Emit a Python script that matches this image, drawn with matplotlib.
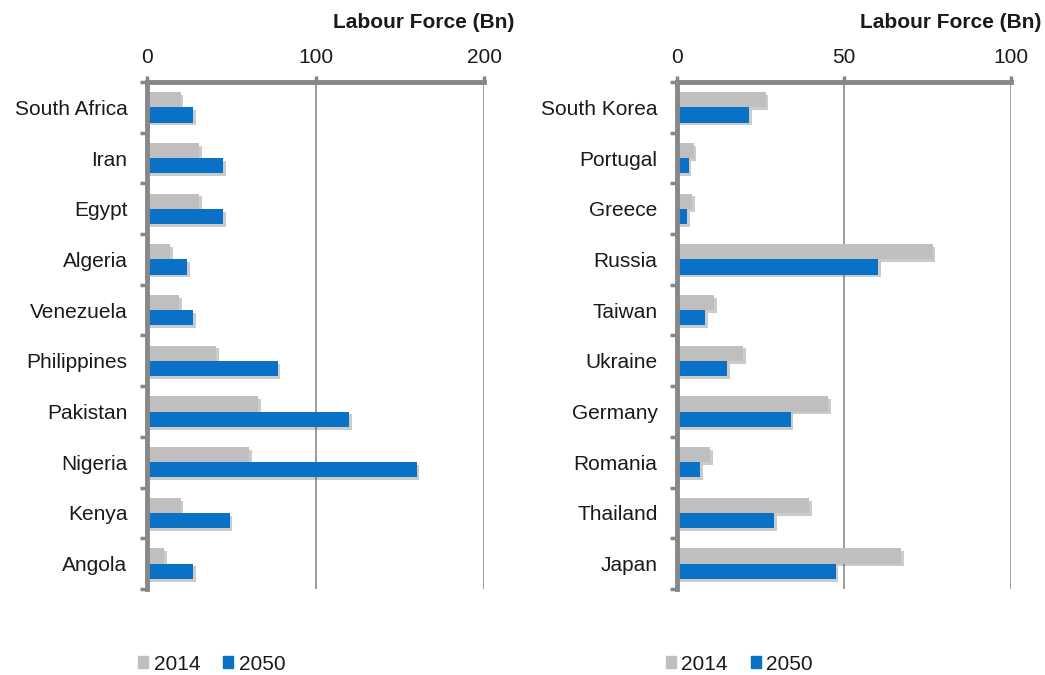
import numpy as np
import matplotlib
matplotlib.use("Agg")
import matplotlib.pyplot as plt
import matplotlib.patheffects as pe
from matplotlib.patches import Patch

# Left panel
left_countries = ["South Africa", "Iran", "Egypt", "Algeria", "Venezuela",
                  "Philippines", "Pakistan", "Nigeria", "Kenya", "Angola"]
left_2014 = [20, 31, 31, 13.5, 19, 41, 66, 60.5, 20, 10]
left_2050 = [27.5, 45, 45, 24, 27.5, 77.5, 120, 160, 49, 27.5]
left_ticks = [0, 100, 200]

# Right panel
right_countries = ["South Korea", "Portugal", "Greece", "Russia", "Taiwan",
                   "Ukraine", "Germany", "Romania", "Thailand", "Japan"]
right_2014 = [26.5, 5, 4.5, 76.5, 11, 19.8, 45.3, 10, 39.5, 67]
right_2050 = [21.5, 3.5, 3, 60.3, 8.4, 15, 34, 7, 29, 47.5]
right_ticks = [0, 50, 100]

years = ["2014", "2050"]
GRAY = "#BFBFBF"
BLUE = "#0A72C6"
AXIS = "#878787"
TEXT = "#1a1a1a"

plt.rcParams['font.family'] = ['Liberation Sans', 'DejaVu Sans']

fig = plt.figure(figsize=(10.45, 6.75), dpi=100)

shadow = [pe.SimplePatchShadow(offset=(2, -2), alpha=0.3, shadow_rgbFace="#555555"), pe.Normal()]


def panel(rect, countries, v14, v50, ticks, legend_x):
    ax = fig.add_axes(rect)
    y = np.arange(len(countries))
    h = 0.3
    b1 = ax.barh(y - h / 2, v14, height=h, color=GRAY, zorder=3)
    b2 = ax.barh(y + h / 2, v50, height=h, color=BLUE, zorder=3)
    for b in list(b1) + list(b2):
        b.set_path_effects(shadow)
    ax.set_xlim(ticks[0], ticks[-1])
    ax.set_ylim(len(countries) - 0.5, -0.5)
    ax.xaxis.tick_top()
    ax.set_xticks(ticks)
    ax.set_xticklabels([str(t) for t in ticks])
    ax.tick_params(axis='x', length=4, width=2.5, color=AXIS, pad=7,
                   labelsize=15, labelcolor=TEXT)
    ax.set_yticks(y)
    ax.set_yticklabels(countries)
    ax.tick_params(axis='y', which='major', length=0, pad=14,
                   labelsize=15, labelcolor=TEXT)
    ax.set_yticks(np.arange(len(countries) + 1) - 0.5, minor=True)
    ax.tick_params(axis='y', which='minor', length=5, width=2.5, color=AXIS)
    ax.grid(axis='x', color="#8c8c8c", linewidth=1.2, zorder=0)
    for s in ['right', 'bottom']:
        ax.spines[s].set_visible(False)
    for s in ['top', 'left']:
        ax.spines[s].set_color(AXIS)
        ax.spines[s].set_linewidth(3.5)
        ax.spines[s].set_zorder(5)
    ax.set_title("Labour Force (Bn)", fontsize=15, fontweight='bold',
                 loc='right', x=1.09, pad=39, color=TEXT)
    handles = [Patch(color=GRAY), Patch(color=BLUE)]
    fig.legend(handles, years, loc='center left',
               bbox_to_anchor=(legend_x, 1 - 664 / 675), frameon=False,
               ncol=2, fontsize=15, handlelength=0.5, handleheight=0.5,
               handletextpad=0.25, columnspacing=1.1, labelcolor=TEXT)
    return ax


panel([147 / 1045, 1 - 589 / 675, 337 / 1045, 507 / 675],
      left_countries, left_2014, left_2050, left_ticks, 0.114)
panel([677 / 1045, 1 - 589 / 675, 334 / 1045, 507 / 675],
      right_countries, right_2014, right_2050, right_ticks, 0.619)

fig.savefig("out.png", dpi=100)
